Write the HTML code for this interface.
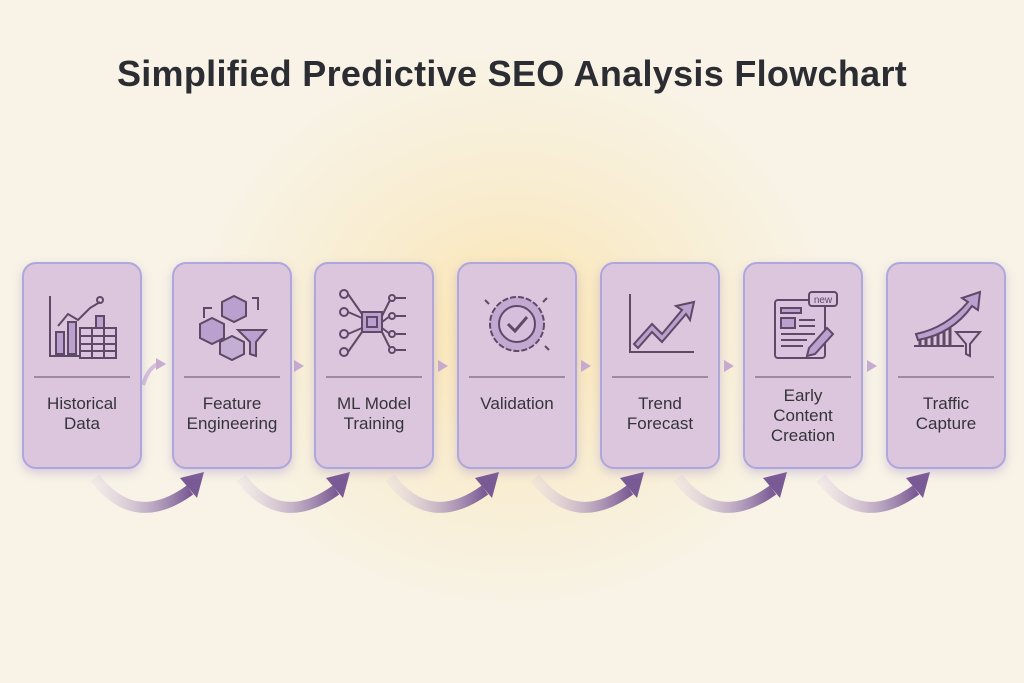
<!DOCTYPE html>
<html><head><meta charset="utf-8"><style>
html,body{margin:0;padding:0}
body{width:1024px;height:683px;overflow:hidden;background:radial-gradient(ellipse 320px 280px at 512px 330px,#fbe4ae 0%,#f9eccd 45%,#f8f3e6 100%);font-family:"Liberation Sans",sans-serif;position:relative}
h1{position:absolute;top:53px;left:0;width:1024px;text-align:center;margin:0;font-size:36px;font-weight:bold;color:#2b2d33;letter-spacing:0.3px}
.box{position:absolute;top:262px;width:116px;height:203px;border:2px solid #aea7dc;border-radius:14px;background:#dcc6dd;box-shadow:0 4px 10px rgba(150,130,200,0.35)}
.div{position:absolute;left:10px;right:10px;top:112px;height:2px;background:#9c8a9f}
.lbl{position:absolute;top:130px;left:0;right:0;text-align:center;font-size:17px;line-height:20px;color:#35333a}
svg.ic{position:absolute;left:18px;top:20px}
</style></head><body>
<h1>Simplified Predictive SEO Analysis Flowchart</h1>
<svg width="1024" height="683" style="position:absolute;left:0;top:0">
<defs><linearGradient id="g" x1="0" x2="1"><stop offset="0" stop-color="#e4d6e6" stop-opacity="0.3"/><stop offset="1" stop-color="#7a5a94"/></linearGradient></defs>
<g id="arrs">
<g transform="translate(0,0)"><path d="M95 478 Q135 530 190 490" fill="none" stroke="url(#g)" stroke-width="11"/><polygon points="180,478 204,472 197,498" fill="#7a5a94"/></g>
<g transform="translate(146,0)"><path d="M95 478 Q135 530 190 490" fill="none" stroke="url(#g)" stroke-width="11"/><polygon points="180,478 204,472 197,498" fill="#7a5a94"/></g>
<g transform="translate(295,0)"><path d="M95 478 Q135 530 190 490" fill="none" stroke="url(#g)" stroke-width="11"/><polygon points="180,478 204,472 197,498" fill="#7a5a94"/></g>
<g transform="translate(440,0)"><path d="M95 478 Q135 530 190 490" fill="none" stroke="url(#g)" stroke-width="11"/><polygon points="180,478 204,472 197,498" fill="#7a5a94"/></g>
<g transform="translate(583,0)"><path d="M95 478 Q135 530 190 490" fill="none" stroke="url(#g)" stroke-width="11"/><polygon points="180,478 204,472 197,498" fill="#7a5a94"/></g>
<g transform="translate(726,0)"><path d="M95 478 Q135 530 190 490" fill="none" stroke="url(#g)" stroke-width="11"/><polygon points="180,478 204,472 197,498" fill="#7a5a94"/></g>
</g>
<g fill="#c8acd0">
<path d="M143 385 Q148 368 158 364" fill="none" stroke="#d6bfdc" stroke-width="4"/><polygon points="156,358 166,364 156,370"/>
<polygon points="294,360 304,366 294,372"/>
<polygon points="438,360 448,366 438,372"/>
<polygon points="581,360 591,366 581,372"/>
<polygon points="724,360 734,366 724,372"/>
<polygon points="867,360 877,366 867,372"/>
</g>
</svg>
<div class="box" style="left:22px"><svg class="ic" width="80" height="80" fill="none" stroke="#5e4a66" stroke-width="2"><path d="M8 12V72H40"/><rect x="14" y="48" width="8" height="22" fill="#b9a0cf"/><rect x="26" y="38" width="8" height="32" fill="#b9a0cf"/><rect x="54" y="32" width="8" height="14" fill="#b9a0cf"/><path d="M16 42L26 30 36 36 48 24 58 18"/><circle cx="58" cy="16" r="3"/><rect x="38" y="44" width="36" height="30" fill="#d9c3de"/><path d="M38 52H74M38 60H74M38 67H74M50 44V74M62 44V74"/></svg><div class="div"></div><div class="lbl">Historical<br>Data</div></div>
<div class="box" style="left:172px"><svg class="ic" width="80" height="80" fill="none" stroke="#5e4a66" stroke-width="2"><path d="M30 18L42 12 54 18V32L42 38 30 32Z" fill="#b9a0cf"/><path d="M8 40L20 34 32 40V54L20 60 8 54Z" fill="#b9a0cf"/><path d="M28 58L40 52 52 58V70L40 76 28 70Z" fill="#c5aed4"/><path d="M46 46H74L64 58V72L58 70V58Z" fill="#b9a0cf"/><path d="M12 34V24H20M60 14H66V26"/></svg><div class="div"></div><div class="lbl">Feature<br>Engineering</div></div>
<div class="box" style="left:314px"><svg class="ic" width="80" height="80" fill="none" stroke="#5e4a66" stroke-width="2"><g fill="#d9c3de"><circle cx="10" cy="10" r="4"/><circle cx="10" cy="28" r="4"/><circle cx="10" cy="50" r="4"/><circle cx="10" cy="68" r="4"/><circle cx="58" cy="14" r="3"/><circle cx="58" cy="32" r="3"/><circle cx="58" cy="50" r="3"/><circle cx="58" cy="66" r="3"/></g><path d="M14 10L28 30M14 28L28 34M14 50L28 44M14 68L28 48M48 32L56 16M48 38L56 32M48 44L56 50M48 48L56 64M62 14H72M62 32H72M62 50H72M62 66H72"/><rect x="28" y="28" width="20" height="20" fill="#b9a0cf"/><rect x="33" y="33" width="10" height="10"/></svg><div class="div"></div><div class="lbl">ML Model<br>Training</div></div>
<div class="box" style="left:457px"><svg class="ic" width="80" height="80" fill="none" stroke="#5e4a66" stroke-width="2"><circle cx="40" cy="40" r="27" fill="#c3a9d2" stroke-dasharray="6 2"/><circle cx="40" cy="40" r="18" fill="#d5bfdc"/><path d="M31 40L38 47 50 33" stroke-width="3"/><path d="M8 16L12 20M70 14L66 18M72 66L68 62"/></svg><div class="div"></div><div class="lbl">Validation</div></div>
<div class="box" style="left:600px"><svg class="ic" width="80" height="80" fill="none" stroke="#5e4a66" stroke-width="2"><path d="M10 10V68H74"/><path d="M14 60L32 40 42 50 62 26 56 22 74 18 70 36 66 30 42 58 32 48 18 64Z" fill="#b9a0cf"/></svg><div class="div"></div><div class="lbl">Trend<br>Forecast</div></div>
<div class="box" style="left:743px"><svg class="ic" width="80" height="80" fill="none" stroke="#5e4a66" stroke-width="2"><rect x="12" y="16" width="50" height="58" rx="3" fill="#d9c3de"/><rect x="46" y="8" width="28" height="14" rx="3" fill="#d9c3de"/><text x="60" y="19" font-size="10" fill="#5e4a66" stroke="none" text-anchor="middle" font-family="Liberation Sans">new</text><rect x="18" y="24" width="20" height="5" fill="#b9a0cf"/><rect x="18" y="34" width="14" height="10" fill="#b9a0cf"/><path d="M36 36H52M36 42H52M18 50H52M18 56H44M18 62H40"/><path d="M46 64L64 44 70 50 52 70 44 72Z" fill="#b9a0cf"/></svg><div class="div"></div><div class="lbl" style="top:122px">Early<br>Content<br>Creation</div></div>
<div class="box" style="left:886px"><svg class="ic" width="80" height="80" fill="none" stroke="#5e4a66" stroke-width="2"><path d="M8 62H58"/><path d="M14 62V52M20 62V50M26 62V48M32 62V46M38 62V44M44 62V40" stroke-width="3"/><path d="M10 50Q40 44 62 18L56 14 74 8 72 26 66 22Q46 50 12 56Z" fill="#b9a0cf"/><path d="M50 48H74L64 60V72L60 70V60Z" fill="#d9c3de"/></svg><div class="div"></div><div class="lbl">Traffic<br>Capture</div></div>
</body></html>
